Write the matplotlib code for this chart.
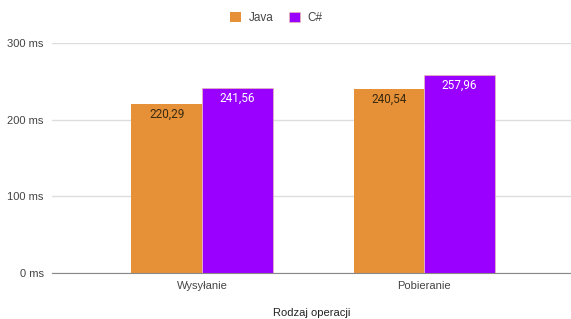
import numpy as np
import matplotlib.pyplot as plt

# dane
operacje = ["Wysyłanie", "Pobieranie"]
java = [220.29, 240.54]
csharp = [241.56, 257.96]
yticks = [0, 100, 200, 300]

plt.rcParams['font.family'] = ['Liberation Sans', 'DejaVu Sans']

fig = plt.figure(figsize=(5.71, 3.19), dpi=100)
ax = fig.add_axes([52 / 571, 46 / 319, 1 - 52 / 571, 230 / 319])

x = np.arange(len(operacje))
w = 0.318
b1 = ax.bar(x - w / 2, java, w, color="#e69138", label="Java", zorder=3)
b2 = ax.bar(x + w / 2, csharp, w, color="#9900ff", label="C#", zorder=3,
            edgecolor="#f0c8a0", linewidth=0.4)

for rect, v in zip(b1, java):
    ax.text(rect.get_x() + rect.get_width() / 2, v - 5, f"{v:.2f}".replace(".", ","),
            ha="center", va="top", fontsize=8.5, color="#3a2a10", zorder=4,
            family=["Roboto", "DejaVu Sans"])
for rect, v in zip(b2, csharp):
    ax.text(rect.get_x() + rect.get_width() / 2, v - 5, f"{v:.2f}".replace(".", ","),
            ha="center", va="top", fontsize=8.5, color="white", zorder=4,
            family=["Roboto", "DejaVu Sans"])

ax.set_ylim(0, 300)
ax.set_xlim(-0.675, 1.66)
ax.set_yticks(yticks, labels=[f"{t} ms" for t in yticks])
ax.set_xticks(x, labels=operacje)
ax.tick_params(axis="both", length=0, labelsize=8, colors="#444444")
ax.tick_params(axis="y", pad=6)
ax.tick_params(axis="x", pad=6)
ax.grid(axis="y", color="#dddddd", linewidth=1, zorder=0)
for s in ["top", "right", "left"]:
    ax.spines[s].set_visible(False)
ax.spines["bottom"].set_color("#888888")
ax.spines["bottom"].set_zorder(5)

ax.set_xlabel("Rodzaj operacji", fontsize=8, color="#222222", labelpad=12)

fig.legend(loc="center", bbox_to_anchor=(276 / 571, 1 - 18 / 319), ncol=2, frameon=False,
           fontsize=8.5, handlelength=1.0, handleheight=1.0, columnspacing=1.3,
           handletextpad=0.6, labelcolor="#444444")

fig.savefig("out.png", dpi=100)
